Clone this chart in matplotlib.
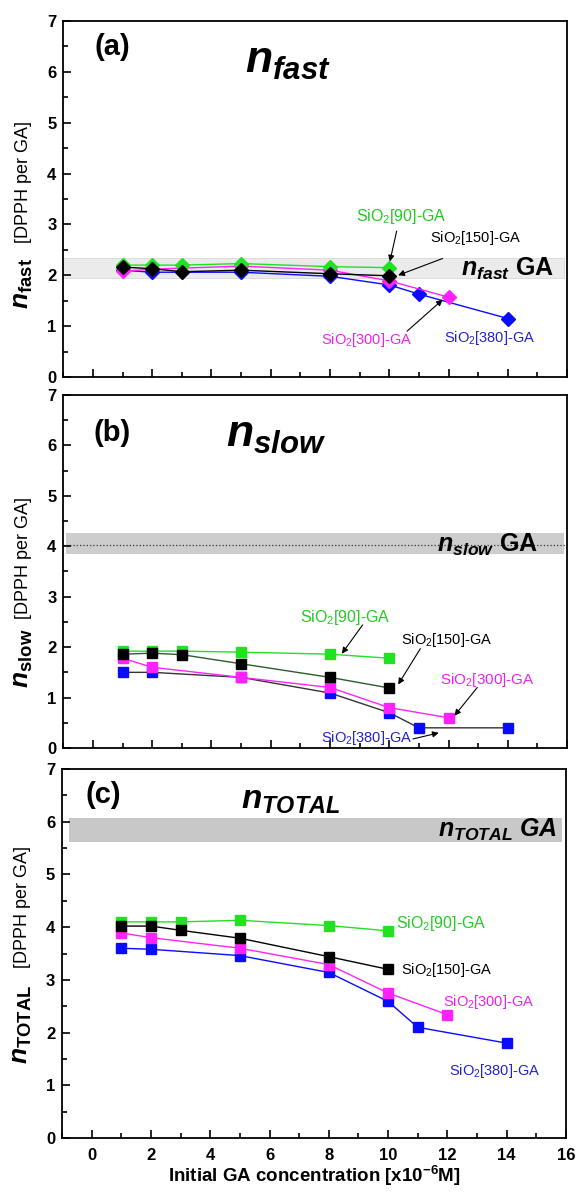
import numpy as np
import matplotlib
matplotlib.use("Agg")
import matplotlib.pyplot as plt
from matplotlib.ticker import MultipleLocator

plt.rcParams['font.family'] = ['Liberation Sans', 'DejaVu Sans']
plt.rcParams['mathtext.fontset'] = 'custom'
plt.rcParams['mathtext.rm'] = 'Liberation Sans'
plt.rcParams['mathtext.it'] = 'Liberation Sans:italic'
plt.rcParams['mathtext.bf'] = 'Liberation Sans:bold'
plt.rcParams['mathtext.bfit'] = 'Liberation Sans:italic:bold'

# x positions (initial GA concentration, x10^-6 M)
x_green = [1, 2, 3, 5, 8, 10]
x_black = [1, 2, 3, 5, 8, 10]
x_magenta = [1, 2, 5, 8, 10, 12]
x_blue = [1, 2, 5, 8, 10, 11, 14]

# (a) n_fast
fast_green = [2.20, 2.20, 2.20, 2.23, 2.17, 2.15]
fast_black = [2.16, 2.13, 2.07, 2.10, 2.03, 1.99]
fast_magenta = [2.08, 2.12, 2.18, 2.10, 1.89, 1.57]
fast_blue = [2.10, 2.06, 2.06, 1.98, 1.81, 1.63, 1.15]

# (b) n_slow
slow_green = [1.92, 1.92, 1.92, 1.90, 1.86, 1.78]
slow_black = [1.86, 1.88, 1.85, 1.67, 1.40, 1.19]
slow_magenta = [1.78, 1.60, 1.40, 1.20, 0.80, 0.60]
slow_blue = [1.50, 1.50, 1.40, 1.09, 0.70, 0.40, 0.40]

# (c) n_total
tot_green = [4.10, 4.10, 4.10, 4.13, 4.03, 3.93]
tot_black = [4.02, 4.02, 3.94, 3.79, 3.44, 3.20]
tot_magenta = [3.89, 3.80, 3.60, 3.29, 2.75, 2.34]
tot_blue = [3.60, 3.58, 3.46, 3.14, 2.59, 2.10, 1.80]

# pure GA reference bands (low, high)
band_fast = (1.95, 2.33)
band_slow = (3.85, 4.26)
line_slow = 4.02
band_total = (5.61, 6.08)

GREEN = '#22e022'
MAGENTA = '#ff22ff'
BLUE = '#0a0aff'
T_GREEN = '#22cc22'
T_MAGENTA = '#ee22ee'
T_BLUE = '#2222cc'

fig = plt.figure(figsize=(5.81, 11.93), dpi=100)
ax_a = fig.add_axes([0.109, 0.684, 0.867, 0.2984])
ax_b = fig.add_axes([0.109, 0.373, 0.867, 0.296])
ax_c = fig.add_axes([0.107, 0.0461, 0.867, 0.3093])


def style_axes(ax, show_x):
    ax.set_xlim(-1, 16)
    ax.set_ylim(0, 7)
    ax.xaxis.set_major_locator(MultipleLocator(2))
    ax.xaxis.set_minor_locator(MultipleLocator(1))
    ax.yaxis.set_major_locator(MultipleLocator(1))
    ax.yaxis.set_minor_locator(MultipleLocator(0.5))
    ax.tick_params(which='both', direction='in', top=False, right=False, width=1.2)
    ax.tick_params(which='major', length=6, labelsize=12)
    ax.tick_params(which='minor', length=3.5)
    ax.tick_params(axis='x', pad=7)
    ax.tick_params(axis='y', pad=5)
    for s in ax.spines.values():
        s.set_linewidth(1.3)
    for lab in ax.get_xticklabels() + ax.get_yticklabels():
        lab.set_fontweight('bold')
    if not show_x:
        ax.set_xticklabels([])


def ylabel(ax, sub, y0, y1):
    ax.text(-0.068, y0, r'$\mathbfit{n}_{\mathbf{%s}}$' % sub, transform=ax.transAxes,
            rotation=90, rotation_mode='anchor', ha='left', va='baseline', fontsize=19)
    ax.text(-0.07, y1, '[DPPH per GA]', transform=ax.transAxes,
            rotation=90, rotation_mode='anchor', ha='left', va='baseline', fontsize=13)


def arrow(ax, tail, head):
    ax.annotate('', xy=head, xytext=tail,
                arrowprops=dict(arrowstyle='-|>', color='k', lw=0.8,
                                mutation_scale=9, shrinkA=0, shrinkB=0))


# ---------- (a) ----------
ax = ax_a
style_axes(ax, False)
ax.axhspan(*band_fast, xmin=0.0, xmax=0.993, color='#ebebeb', ec='#d8d8d8', lw=0.6, zorder=0)
ax.plot(x_blue, fast_blue, '-D', color=BLUE, ms=7, lw=1)
ax.plot(x_magenta, fast_magenta, '-D', color=MAGENTA, ms=7, lw=1)
ax.plot(x_green, fast_green, '-D', color=GREEN, ms=7, lw=1)
ax.plot(x_black, fast_black, '-D', color='k', ms=7, lw=1)
ax.text(0.64, 6.48, '(a)', fontsize=21, fontweight='bold', ha='center', va='center')
ax.text(6.6, 6.2, r'$\mathbfit{n}_{\mathbfit{fast}}$', fontsize=32, ha='center', va='center')
ax.text(15.55, 2.13, r'$\mathbfit{n}_{\mathbfit{fast}}$ $\mathbf{GA}$', fontsize=18,
        ha='right', va='center')
ax.text(10.4, 3.15, r'SiO$_2$[90]-GA', color=T_GREEN, fontsize=11.5, ha='center', va='center')
arrow(ax, (10.25, 2.87), (10.02, 2.27))
ax.text(12.9, 2.74, r'SiO$_2$[150]-GA', color='k', fontsize=10.5, ha='center', va='center')
arrow(ax, (11.8, 2.33), (10.3, 2.0))
ax.text(9.25, 0.72, r'SiO$_2$[300]-GA', color=T_MAGENTA, fontsize=10.5, ha='center', va='center')
arrow(ax, (10.6, 0.9), (11.8, 1.52))
ax.text(13.4, 0.77, r'SiO$_2$[380]-GA', color=T_BLUE, fontsize=10.5, ha='center', va='center')
ylabel(ax, 'fast', 0.19, 0.375)

# ---------- (b) ----------
ax = ax_b
style_axes(ax, False)
ax.axhspan(*band_slow, xmin=0.005, xmax=0.993, color='#cdcdcd', lw=0, zorder=0)
ax.axhline(line_slow, color='#333333', ls=':', lw=0.9, zorder=1)
ax.plot(x_blue, slow_blue, '-s', color='#333333', mfc=BLUE, mec=BLUE, ms=6.5, lw=1)
ax.plot(x_magenta, slow_magenta, '-s', color=MAGENTA, ms=6.5, lw=1)
ax.plot(x_green, slow_green, '-s', color=GREEN, ms=6.5, lw=1)
ax.plot(x_black, slow_black, '-s', color='#2e5a2e', mfc='k', mec='k', ms=6.5, lw=1)
ax.text(0.65, 6.24, '(b)', fontsize=21, fontweight='bold', ha='center', va='center')
ax.text(6.2, 6.2, r'$\mathbfit{n}_{\mathbfit{slow}}$', fontsize=32, ha='center', va='center')
ax.text(15.0, 4.03, r'$\mathbfit{n}_{\mathbfit{slow}}$ $\mathbf{GA}$', fontsize=18,
        ha='right', va='center')
ax.text(8.5, 2.58, r'SiO$_2$[90]-GA', color=T_GREEN, fontsize=11.5, ha='center', va='center')
arrow(ax, (9.1, 2.44), (8.4, 1.87))
ax.text(11.95, 2.15, r'SiO$_2$[150]-GA', color='k', fontsize=10.5, ha='center', va='center')
arrow(ax, (11.05, 1.97), (10.3, 1.26))
ax.text(13.3, 1.35, r'SiO$_2$[300]-GA', color=T_MAGENTA, fontsize=11, ha='center', va='center')
arrow(ax, (12.97, 1.2), (12.2, 0.64))
ax.text(9.25, 0.2, r'SiO$_2$[380]-GA', color=T_BLUE, fontsize=10.5, ha='center', va='center')
arrow(ax, (10.8, 0.18), (11.67, 0.3))
ylabel(ax, 'slow', 0.17, 0.365)

# ---------- (c) ----------
ax = ax_c
style_axes(ax, True)
ax.axhspan(*band_total, xmin=0.013, xmax=0.993, color='#c8c8c8', lw=0, zorder=0)
ax.plot(x_blue, tot_blue, '-s', color=BLUE, ms=6.5, lw=1)
ax.plot(x_magenta, tot_magenta, '-s', color=MAGENTA, ms=6.5, lw=1)
ax.plot(x_green, tot_green, '-s', color=GREEN, ms=6.5, lw=1)
ax.plot(x_black, tot_black, '-s', color='k', ms=6.5, lw=1)
ax.text(0.4, 6.5, '(c)', fontsize=21, fontweight='bold', ha='center', va='center')
ax.text(6.7, 6.4, r'$\mathbfit{n}_{\mathbfit{TOTAL}}$', fontsize=24, ha='center', va='center')
ax.text(15.7, 5.84, r'$\mathbfit{n}_{\mathbfit{TOTAL}}$ $\mathbfit{GA}$', fontsize=18,
        ha='right', va='center')
ax.text(10.25, 4.06, r'SiO$_2$[90]-GA', color=T_GREEN, fontsize=11.5, ha='left', va='center')
ax.text(10.45, 3.18, r'SiO$_2$[150]-GA', color='k', fontsize=10.5, ha='left', va='center')
ax.text(11.85, 2.58, r'SiO$_2$[300]-GA', color=T_MAGENTA, fontsize=10.5, ha='left', va='center')
ax.text(12.05, 1.28, r'SiO$_2$[380]-GA', color=T_BLUE, fontsize=10.5, ha='left', va='center')
ylabel(ax, 'TOTAL', 0.2, 0.46)
ax.set_xlabel(r'Initial GA concentration [x10$^{\mathbf{-6}}$M]', fontsize=13.5,
              fontweight='bold', labelpad=1)

fig.savefig('out.png', dpi=100)
